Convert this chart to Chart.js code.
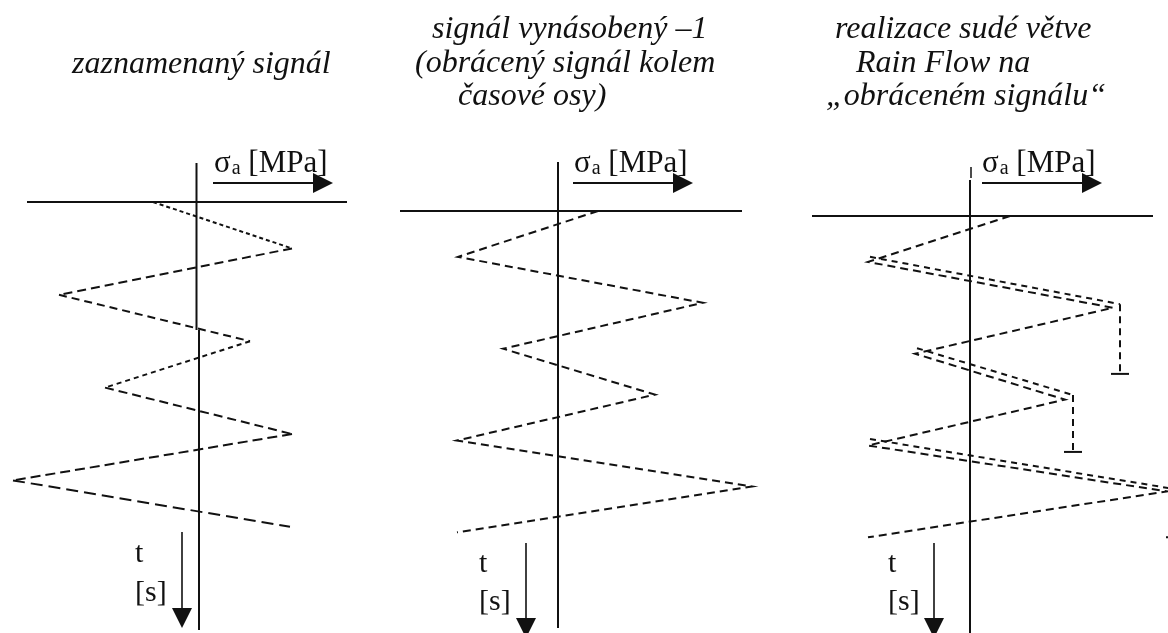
<!DOCTYPE html>
<html><head><meta charset="utf-8">
<script src="https://cdn.jsdelivr.net/npm/chart.js@4.4.0/dist/chart.umd.min.js"></script>
<style>
html,body{margin:0;padding:0;background:#fff;width:1168px;height:633px;overflow:hidden}
.panel{position:absolute;top:0;height:633px}
canvas{display:block}
</style></head><body>
<div class="panel" style="left:0;width:390px"><canvas id="c1" width="390" height="633"></canvas></div>
<div class="panel" style="left:390px;width:390px"><canvas id="c2" width="390" height="633"></canvas></div>
<div class="panel" style="left:780px;width:388px"><canvas id="c3" width="388" height="633"></canvas></div>
<script>
// ---- data (sigma in MPa, t in s) ----
const times = [0, 1, 2, 3, 4, 5, 6, 7];
const recordedSignal = [-45, 94, -139, 52, -93, 94, -185, 92];
const invertedSignal = [40, -100, 145, -55, 97, -101, 194, -101];
const rainflowSignal = [40, -102, 143, -55, 95, -102, 197, -102];
// even Rain Flow branches on the inverted signal
const flowStartSigma = [-100, -53, -100];
const flowStartT = [0.89, 2.88, 4.86];
const flowEndSigma = [150, 103, 205];
const flowEndT = [1.92, 3.9, 5.95];
const flowDropT = [3.44, 5.14, 7.0];

const titles = [
  ['zaznamenaný signál'],
  ['signál vynásobený –1', '(obrácený signál kolem', 'časové osy)'],
  ['realizace sudé větve', 'Rain Flow na', '„obráceném signálu“']
];
const sigmaSymbol = 'σ', sigmaSub = 'a', sigmaUnit = '[MPa]';
const timeSymbol = 't', timeUnit = '[s]';

// ---- layout (page pixels) ----
const H = 633;
const layouts = [
  {left:0, width:390, ox:198, oy:202, kx:1, ky:46.4, hLine:[27,347], vLine:[163,630], vJog:[330,-1.5,1],
   arrow:[213,333,183], label:[214,172], tArrow:[182,532,628], tLabel:[135,562,601],
   titleX:[72], titleY:[73]},
  {left:390, width:390, ox:558, oy:211, kx:1, ky:45.9, hLine:[400,742], vLine:[162,628],
   arrow:[573,693,183], label:[574,172], tArrow:[526,543,638], tLabel:[479,572,610],
   titleX:[432,415,458], titleY:[38,72,105]},
  {left:780, width:388, ox:970, oy:216, kx:1, ky:45.9, hLine:[812,1153], vLine:[180,633],
   arrow:[982,1102,183], label:[982,172], tArrow:[934,543,638], tLabel:[888,572,610],
   titleX:[835,856,826], titleY:[38,72,105], topTick:[971,167,178]}
];

const INK = '#111';
const SERIF = '"Liberation Serif", "Times New Roman", serif';
const pts = (xs, ys) => xs.map((x, i) => ({x: x, y: ys[i]}));

const diagramPlugin = {
  id: 'diagram',
  afterDatasetsDraw(chart, args, opts) {
    const L = opts.layout, ctx = chart.ctx, o = L.left;
    const xs = chart.scales.x, ys = chart.scales.y;
    const x0 = xs.getPixelForValue(0), y0 = ys.getPixelForValue(0);
    ctx.save();
    ctx.strokeStyle = INK; ctx.fillStyle = INK; ctx.setLineDash([]);
    // axes
    ctx.lineWidth = 2;
    ctx.beginPath(); ctx.moveTo(L.hLine[0]-o, y0); ctx.lineTo(L.hLine[1]-o, y0); ctx.stroke();
    if (L.vJog) {
      ctx.beginPath(); ctx.moveTo(x0 + L.vJog[1], L.vLine[0]); ctx.lineTo(x0 + L.vJog[1], L.vJog[0]); ctx.stroke();
      ctx.beginPath(); ctx.moveTo(x0 + L.vJog[2], L.vJog[0]); ctx.lineTo(x0 + L.vJog[2], L.vLine[1]); ctx.stroke();
    } else {
      ctx.beginPath(); ctx.moveTo(x0, L.vLine[0]); ctx.lineTo(x0, L.vLine[1]); ctx.stroke();
    }
    if (L.topTick) {
      ctx.lineWidth = 1.5;
      ctx.beginPath(); ctx.moveTo(L.topTick[0]-o, L.topTick[1]); ctx.lineTo(L.topTick[0]-o, L.topTick[2]); ctx.stroke();
    }
    // sigma arrow
    const [ax1, ax2, ay] = L.arrow;
    ctx.lineWidth = 2;
    ctx.beginPath(); ctx.moveTo(ax1-o, ay); ctx.lineTo(ax2-20-o, ay); ctx.stroke();
    ctx.beginPath(); ctx.moveTo(ax2-o, ay); ctx.lineTo(ax2-20-o, ay-10); ctx.lineTo(ax2-20-o, ay+10); ctx.closePath(); ctx.fill();
    // t arrow
    const [tx, ty1, ty2] = L.tArrow;
    ctx.lineWidth = 1.6;
    ctx.beginPath(); ctx.moveTo(tx-o, ty1); ctx.lineTo(tx-o, ty2-20); ctx.stroke();
    ctx.beginPath(); ctx.moveTo(tx-o, ty2); ctx.lineTo(tx-10-o, ty2-20); ctx.lineTo(tx+10-o, ty2-20); ctx.closePath(); ctx.fill();
    // sigma label
    ctx.textBaseline = 'alphabetic'; ctx.textAlign = 'left';
    ctx.font = '31px ' + SERIF;
    let lx = L.label[0]-o; const lb = L.label[1];
    ctx.fillText(sigmaSymbol, lx, lb); lx += ctx.measureText(sigmaSymbol).width;
    ctx.font = '20px ' + SERIF;
    ctx.fillText(sigmaSub, lx+1, lb+2); lx += ctx.measureText(sigmaSub).width + 1;
    ctx.font = '31px ' + SERIF;
    ctx.fillText(' ' + sigmaUnit, lx, lb);
    // t label
    ctx.font = '30px ' + SERIF;
    ctx.fillText(timeSymbol, L.tLabel[0]-o, L.tLabel[1]);
    ctx.fillText(timeUnit, L.tLabel[0]-o, L.tLabel[2]);
    // titles
    ctx.font = 'italic 32px ' + SERIF;
    opts.title.forEach((line, i) => ctx.fillText(line, L.titleX[i]-o, L.titleY[i]));
    ctx.restore();
  }
};

function scalesFor(L) {
  const lx = L.ox - L.left;
  return {
    x: {type:'linear', display:false, min: -lx / L.kx, max: (L.width - lx) / L.kx},
    y: {type:'linear', display:false, reverse:true, min: -L.oy / L.ky, max: (H - L.oy) / L.ky}
  };
}

// dash patterns per segment (finer at the start, longer later on)
const segDash = [[4,3],[9,5],[8,5],[5,4],[9,5],[10,5],[12,6]];
function signalDataset(values, varied) {
  const ds = {data: pts(values, times), showLine:true, borderColor:INK, borderWidth:2,
          borderDash:[8,5], pointRadius:0, fill:false, tension:0};
  if (varied) ds.segment = {borderDash: c => segDash[c.p0DataIndex] || [8,5]};
  return ds;
}

function makeChart(id, idx, datasets) {
  const L = layouts[idx];
  return new Chart(document.getElementById(id), {
    type: 'scatter',
    data: {datasets: datasets},
    options: {
      responsive:false, animation:false, events:[],
      layout:{padding:0},
      scales: scalesFor(L),
      plugins: {legend:{display:false}, tooltip:{enabled:false}, title:{display:false},
                diagram:{layout:L, title:titles[idx]}}
    },
    plugins:[diagramPlugin]
  });
}

makeChart('c1', 0, [signalDataset(recordedSignal, true)]);
makeChart('c2', 1, [signalDataset(invertedSignal, false)]);

const flowSets = [];
const TICK = 9;
flowStartSigma.forEach((s, i) => {
  flowSets.push({data: pts([s, flowEndSigma[i]], [flowStartT[i], flowEndT[i]]), showLine:true,
    borderColor:INK, borderWidth:2, borderDash:[6,5], pointRadius:0});
  flowSets.push({data: pts([flowEndSigma[i], flowEndSigma[i]], [flowEndT[i], flowDropT[i]]), showLine:true,
    borderColor:INK, borderWidth:2, borderDash:[7,5], pointRadius:0});
  flowSets.push({data: pts([flowEndSigma[i]-TICK, flowEndSigma[i]+TICK], [flowDropT[i], flowDropT[i]]), showLine:true,
    borderColor:INK, borderWidth:2, pointRadius:0});
});
makeChart('c3', 2, [signalDataset(rainflowSignal, false)].concat(flowSets));
</script>
</body></html>
